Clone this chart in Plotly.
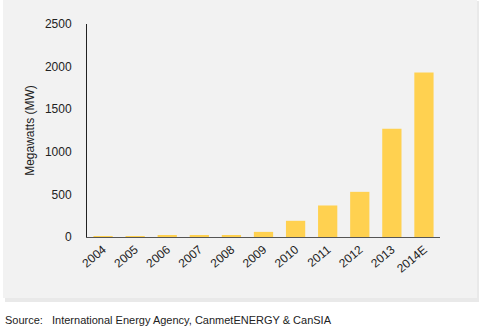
import plotly.graph_objects as go

years = ["2004", "2005", "2006", "2007", "2008", "2009", "2010", "2011", "2012", "2013", "2014E"]
megawatts = [5, 5, 15, 15, 20, 60, 190, 370, 530, 1270, 1930]
y_ticks = [0, 500, 1000, 1500, 2000, 2500]

W, H = 482, 330
L, R, T, B = 87, 42, 24, 93
pw, ph = W - L - R, H - T - B


def px_x(x):
    return (x - L) / pw


def px_y(y):
    return (H - B - y) / ph


fig = go.Figure(
    go.Bar(
        x=years,
        y=megawatts,
        marker=dict(color="#ffd150", line=dict(width=0)),
        hoverinfo="x+y",
    )
)

# soft grey panel behind the chart with a faint drop shadow
fig.add_shape(type="rect", xref="paper", yref="paper", layer="below",
              x0=px_x(5), x1=px_x(479), y0=px_y(1), y1=px_y(302),
              fillcolor="#e9e9e9", line=dict(width=0))
fig.add_shape(type="rect", xref="paper", yref="paper", layer="below",
              x0=px_x(3), x1=px_x(477), y0=px_y(0), y1=px_y(298),
              fillcolor="#f2f2f2", line=dict(width=0))

fig.add_annotation(text="Source:", xref="paper", yref="paper",
                   x=px_x(3), y=px_y(320), xanchor="left", yanchor="middle",
                   showarrow=False, font=dict(size=11, color="#222"))
fig.add_annotation(text="International Energy Agency, CanmetENERGY &amp; CanSIA",
                   xref="paper", yref="paper",
                   x=px_x(50), y=px_y(320), xanchor="left", yanchor="middle",
                   showarrow=False, font=dict(size=11, color="#222"))

fig.update_layout(
    width=W, height=H,
    margin=dict(l=L, r=R, t=T, b=B, pad=0),
    paper_bgcolor="white",
    plot_bgcolor="rgba(0,0,0,0)",
    font=dict(family="Liberation Sans, Arial, sans-serif", size=12, color="#222"),
    bargap=0.4,
    showlegend=False,
    xaxis=dict(
        type="category",
        tickangle=-40,
        showline=True, linecolor="#555", linewidth=1,
        ticks="", showgrid=False, zeroline=False,
        tickfont=dict(size=12, color="#222"),
    ),
    yaxis=dict(
        range=[0, 2500],
        tickvals=y_ticks,
        showline=True, linecolor="#222", linewidth=1,
        ticks="", showgrid=False, zeroline=False,
        ticklabelstandoff=12,
        tickfont=dict(size=12, color="#222"),
        title=dict(text="Megawatts (MW)", font=dict(size=12, color="#222"), standoff=7),
    ),
)

fig.write_html("out.html")
